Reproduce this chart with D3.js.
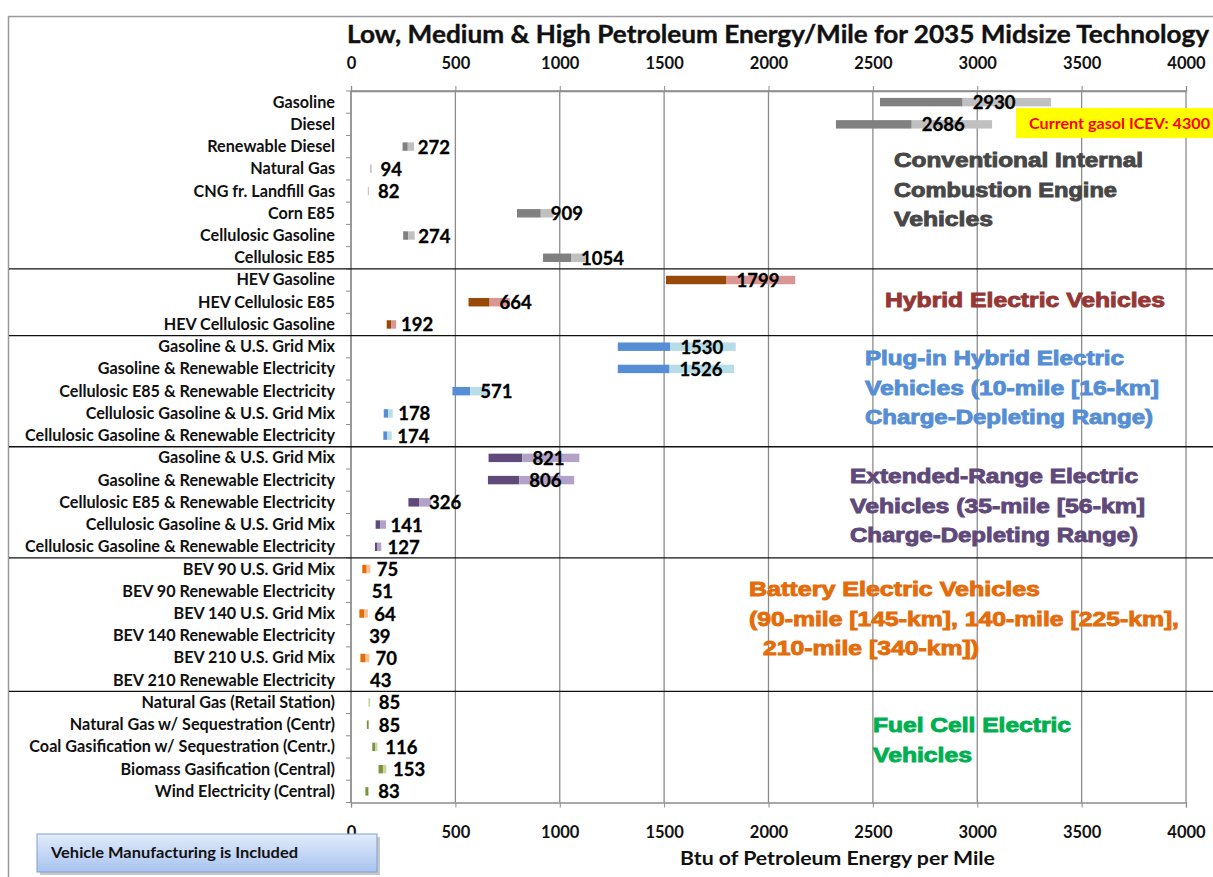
<!DOCTYPE html>
<html>
<head>
<meta charset="utf-8">
<script src="https://cdn.jsdelivr.net/npm/d3@7"></script>
<style>
  body { margin: 0; background: #fff; }
  svg { display: block; }
</style>
</head>
<body>
<div id="chart"></div>
<script>
// Vehicle / fuel pathways, top to bottom
const categories = [
  "Gasoline", "Diesel", "Renewable Diesel", "Natural Gas", "CNG fr. Landfill Gas",
  "Corn E85", "Cellulosic Gasoline", "Cellulosic E85",
  "HEV Gasoline", "HEV Cellulosic E85", "HEV Cellulosic Gasoline",
  "Gasoline & U.S. Grid Mix", "Gasoline & Renewable Electricity", "Cellulosic E85 & Renewable Electricity",
  "Cellulosic Gasoline & U.S. Grid Mix", "Cellulosic Gasoline & Renewable Electricity",
  "Gasoline & U.S. Grid Mix ", "Gasoline & Renewable Electricity ", "Cellulosic E85 & Renewable Electricity ",
  "Cellulosic Gasoline & U.S. Grid Mix ", "Cellulosic Gasoline & Renewable Electricity ",
  "BEV 90 U.S. Grid Mix", "BEV 90 Renewable Electricity", "BEV 140 U.S. Grid Mix",
  "BEV 140 Renewable Electricity", "BEV 210 U.S. Grid Mix", "BEV 210 Renewable Electricity",
  "Natural Gas (Retail Station)", "Natural Gas w/ Sequestration (Centr)",
  "Coal Gasification w/ Sequestration (Centr.)", "Biomass Gasification (Central)", "Wind Electricity (Central)"
];

// Btu of petroleum energy per mile: low, medium (labelled), high
const lowVals = [
  2534, 2323, 247, 92, 81, 795, 250, 920,
  1509, 563, 171,
  1278, 1278, 486, 157, 155,
  659, 656, 275, 118, 115,
  54, 51, 40, 39, 45, 43,
  84, 76, 102, 132, 69
];
const midVals = [
  2930, 2686, 272, 94, 82, 909, 274, 1054,
  1799, 664, 192,
  1530, 1526, 571, 178, 174,
  821, 806, 326, 141, 127,
  75, 51, 64, 39, 70, 43,
  85, 85, 116, 153, 83
];
const highVals = [
  3353, 3071, 302, 99, 86, 970, 305, 1121,
  2128, 761, 216,
  1843, 1835, 665, 200, 195,
  1094, 1069, 384, 168, 145,
  93, 51, 81, 39, 88, 43,
  92, 86, 126, 169, 86
];

const groupSizes = [8, 3, 5, 5, 6, 5];
const darkColors = ["#808080", "#984807", "#558ed5", "#5f4a7b", "#e46c0a", "#77933c"];
const lightColors = ["#c0c0c0", "#da9694", "#b7dee8", "#b3a2c7", "#fac090", "#c3d69b"];
const noteColors = ["#474747", "#953735", "#558ed5", "#5f497a", "#e46c0a", "#00b050"];

const xTicks = [0, 500, 1000, 1500, 2000, 2500, 3000, 3500, 4000];

// group annotation text
const groupNotes = [
  ["Conventional Internal", "Combustion Engine", "Vehicles"],
  ["Hybrid Electric Vehicles"],
  ["Plug-in Hybrid Electric", "Vehicles (10-mile [16-km]", "Charge-Depleting Range)"],
  ["Extended-Range Electric", "Vehicles (35-mile [56-km]", "Charge-Depleting Range)"],
  ["Battery Electric Vehicles", "(90-mile [145-km], 140-mile [225-km],", "210-mile [340-km])"],
  ["Fuel Cell Electric", "Vehicles"]
];

const W = 1213, H = 877;
const plotLeft = 351, plotRight = 1186, plotTop = 91, plotBottom = 802.5;
const labelFont = "Lato, 'Open Sans', sans-serif";
const noteFont = "'Liberation Sans', Arial, sans-serif";

const groupOf = [];
groupSizes.forEach((n, g) => { for (let i = 0; i < n; i++) groupOf.push(g); });

const rows = categories.map((c, i) => ({
  cat: c, low: lowVals[i], mid: midVals[i], high: highVals[i], g: groupOf[i]
}));

const svg = d3.select("#chart").append("svg")
  .attr("width", W)
  .attr("height", H);

const x = d3.scaleLinear()
  .domain([0, 4000])
  .range([plotLeft, plotRight]);

const y = d3.scaleBand()
  .domain(categories)
  .range([plotTop, plotBottom])
  .paddingInner(0.62)
  .paddingOuter(0.31);

const step = y.step();

// outer frame of the chart object
svg.append("line").attr("x1", 8.5).attr("x2", 8.5).attr("y1", 16).attr("y2", H)
  .attr("stroke", "#9a9a9a").attr("stroke-width", 1.5);
svg.append("line").attr("x1", 8).attr("x2", W).attr("y1", 16.5).attr("y2", 16.5)
  .attr("stroke", "#9a9a9a").attr("stroke-width", 1.5);

// title
svg.append("text")
  .attr("x", 347)
  .attr("y", 43)
  .attr("textLength", 862)
  .attr("lengthAdjust", "spacingAndGlyphs")
  .style("font-family", labelFont)
  .style("font-weight", "bold")
  .style("font-size", "25px")
  .style("fill", "#111")
  .style("stroke", "#111")
  .style("stroke-width", 0.4)
  .text("Low, Medium & High Petroleum Energy/Mile for 2035 Midsize Technology");

// vertical gridlines
svg.append("g")
  .selectAll("line")
  .data(xTicks)
  .enter()
  .append("line")
  .attr("x1", d => x(d))
  .attr("x2", d => x(d))
  .attr("y1", plotTop)
  .attr("y2", plotBottom)
  .attr("stroke", "#8c8c8c")
  .attr("stroke-width", 1.3);

// top border of plot
svg.append("line")
  .attr("x1", plotLeft).attr("x2", plotRight)
  .attr("y1", plotTop).attr("y2", plotTop)
  .attr("stroke", "#8c8c8c").attr("stroke-width", 1.3);

// top axis
const topAxis = svg.append("g")
  .attr("transform", `translate(0,${plotTop})`)
  .call(d3.axisTop(x).tickValues(xTicks).tickSize(5).tickPadding(17).tickFormat(d3.format("d")));

// bottom axis
const bottomAxis = svg.append("g")
  .attr("transform", `translate(0,${plotBottom})`)
  .call(d3.axisBottom(x).tickValues(xTicks).tickSize(5).tickPadding(19).tickFormat(d3.format("d")));

[topAxis, bottomAxis].forEach(ax => {
  ax.select(".domain").attr("stroke", "#8c8c8c").attr("stroke-width", 1.3);
  ax.selectAll(".tick line").attr("stroke", "#8c8c8c");
  ax.selectAll(".tick text")
    .style("font-family", labelFont)
    .style("font-weight", "bold")
    .style("font-size", "16.5px")
    .style("fill", "#111");
});

// left category axis: ticks between categories
svg.append("line")
  .attr("x1", plotLeft).attr("x2", plotLeft)
  .attr("y1", plotTop).attr("y2", plotBottom)
  .attr("stroke", "#8c8c8c").attr("stroke-width", 1.3);

svg.append("g")
  .selectAll("line")
  .data(d3.range(categories.length + 1))
  .enter()
  .append("line")
  .attr("x1", plotLeft - 5)
  .attr("x2", plotLeft)
  .attr("y1", k => plotTop + k * step)
  .attr("y2", k => plotTop + k * step)
  .attr("stroke", "#8c8c8c");

svg.append("g")
  .selectAll("text")
  .data(rows)
  .enter()
  .append("text")
  .attr("x", 335)
  .attr("y", d => y(d.cat) + y.bandwidth() / 2 + 5.5)
  .style("text-anchor", "end")
  .style("font-family", labelFont)
  .style("font-weight", "bold")
  .style("font-size", "16.2px")
  .style("fill", "#111")
  .text(d => d.cat.trim());

// group separator lines
let cum = 0;
const seps = [];
groupSizes.slice(0, -1).forEach(n => { cum += n; seps.push(cum); });
svg.append("g")
  .selectAll("line")
  .data(seps)
  .enter()
  .append("line")
  .attr("x1", 9)
  .attr("x2", W)
  .attr("y1", k => plotTop + k * step)
  .attr("y2", k => plotTop + k * step)
  .attr("stroke", "#111")
  .attr("stroke-width", 1.3);

// low -> medium segment
svg.append("g")
  .selectAll("rect")
  .data(rows)
  .enter()
  .append("rect")
  .attr("x", d => x(d.low))
  .attr("y", d => y(d.cat))
  .attr("width", d => x(d.mid) - x(d.low))
  .attr("height", y.bandwidth())
  .attr("fill", d => darkColors[d.g]);

// medium -> high segment
svg.append("g")
  .selectAll("rect")
  .data(rows)
  .enter()
  .append("rect")
  .attr("x", d => x(d.mid))
  .attr("y", d => y(d.cat))
  .attr("width", d => x(d.high) - x(d.mid))
  .attr("height", y.bandwidth())
  .attr("fill", d => lightColors[d.g]);

// medium value labels
svg.append("g")
  .selectAll("text")
  .data(rows)
  .enter()
  .append("text")
  .attr("x", d => x(d.mid) + 10)
  .attr("y", d => y(d.cat) + y.bandwidth() / 2 + 7)
  .style("font-family", labelFont)
  .style("font-weight", "bold")
  .style("font-size", "18.5px")
  .style("fill", "#000")
  .style("stroke", "#000")
  .style("stroke-width", 0.3)
  .text(d => d.mid);

// current ICEV callout
svg.append("rect")
  .attr("x", 1016).attr("y", 108)
  .attr("width", W - 1016).attr("height", 30)
  .attr("fill", "#ffff00");
svg.append("text")
  .attr("x", 1029).attr("y", 129)
  .attr("textLength", 181)
  .attr("lengthAdjust", "spacingAndGlyphs")
  .style("font-family", labelFont)
  .style("font-weight", "bold")
  .style("font-size", "15.5px")
  .style("fill", "#ff0000")
  .text("Current gasol ICEV: 4300");

// group annotations (position, baseline of first line, line widths)
const notePos = [
  { x: 894, y: 167, widths: [249, 223, 99] },
  { x: 885, y: 307, widths: [280] },
  { x: 865, y: 365, widths: [259, 294, 288] },
  { x: 850, y: 483, widths: [288, 295, 288] },
  { x: 749, y: 596, widths: [291, 430, 216], indent: [0, 0, 14] },
  { x: 873, y: 732, widths: [198, 99] }
];

groupNotes.forEach((lines, g) => {
  const p = notePos[g];
  const t = svg.append("g");
  lines.forEach((ln, j) => {
    t.append("text")
      .attr("x", p.x + (p.indent ? p.indent[j] : 0))
      .attr("y", p.y + j * 29.5)
      .attr("textLength", p.widths[j])
      .attr("lengthAdjust", "spacingAndGlyphs")
      .style("font-family", noteFont)
      .style("font-weight", "bold")
      .style("font-size", "20px")
      .style("fill", noteColors[g])
      .style("stroke", noteColors[g])
      .style("stroke-width", 0.9)
      .text(ln);
  });
});

// x-axis title
svg.append("text")
  .attr("x", 680)
  .attr("y", 865)
  .attr("textLength", 315)
  .attr("lengthAdjust", "spacingAndGlyphs")
  .style("font-family", labelFont)
  .style("font-weight", "bold")
  .style("font-size", "18.5px")
  .style("fill", "#111")
  .text("Btu of Petroleum Energy per Mile");

// note box
const defs = svg.append("defs");
const grad = defs.append("linearGradient")
  .attr("id", "boxGrad").attr("x1", 0).attr("x2", 0).attr("y1", 0).attr("y2", 1);
grad.append("stop").attr("offset", "0%").attr("stop-color", "#e3ecfa");
grad.append("stop").attr("offset", "100%").attr("stop-color", "#a7c3ef");

svg.append("rect")
  .attr("x", 40).attr("y", 837)
  .attr("width", 340).attr("height", 38)
  .attr("fill", "#c8c8c8");
svg.append("rect")
  .attr("x", 37).attr("y", 834)
  .attr("width", 340).attr("height", 38)
  .attr("fill", "url(#boxGrad)")
  .attr("stroke", "#7f9fd4")
  .attr("stroke-width", 1);
svg.append("text")
  .attr("x", 51).attr("y", 858)
  .attr("textLength", 247)
  .attr("lengthAdjust", "spacingAndGlyphs")
  .style("font-family", labelFont)
  .style("font-weight", "bold")
  .style("font-size", "14.5px")
  .style("fill", "#111")
  .text("Vehicle Manufacturing is Included");
</script>
</body>
</html>
